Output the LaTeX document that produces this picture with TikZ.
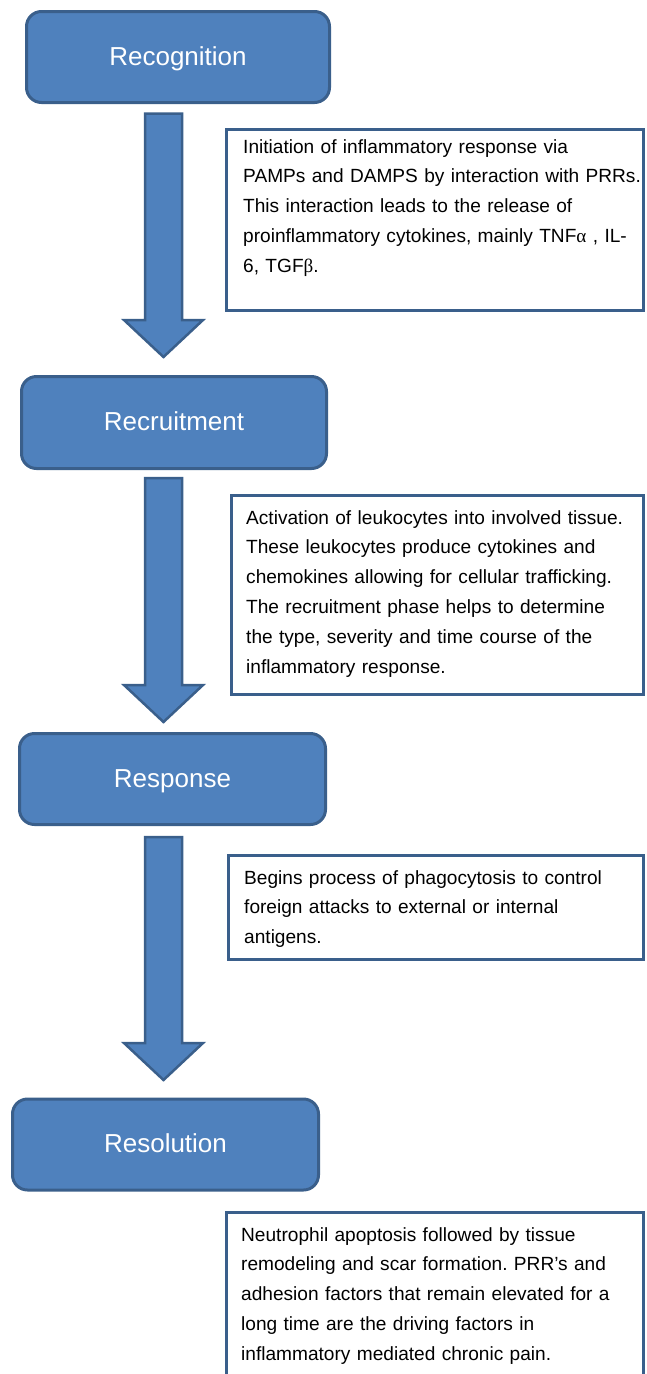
\documentclass[tikz,border=0pt]{standalone}
\usepackage{fontspec}
\setmainfont{Liberation Sans}
\newfontfamily\grk{Liberation Serif}
\definecolor{boxfill}{HTML}{4F81BD}
\definecolor{boxline}{HTML}{3A5F8B}
\frenchspacing
\tikzset{
  stage/.style={draw=boxline, fill=boxfill, line width=3pt, rounded corners=15pt,
    text=white, font=\fontsize{26}{30}\selectfont, text height=16.5pt, text depth=0pt,
    inner sep=0pt, minimum width=306pt, minimum height=91pt},
  infobox/.style={draw=boxline, fill=white, line width=3pt, inner sep=0pt},
  infotext/.style={anchor=base west, inner sep=0pt, text width=420pt, align=left,
    font=\fontsize{19.1}{29.8}\selectfont},
  blockarrow/.style={draw=boxline, fill=boxfill, line width=2.5pt, line join=miter}
}
\begin{document}
\begin{tikzpicture}[x=1pt,y=-1pt]
\useasboundingbox (0,0) rectangle (646,1374);
% stage boxes
\node[stage, minimum width=303pt] (rec) at (178,57) {Recognition};
\node[stage, minimum width=305pt, minimum height=92pt] (rcr) at (174,422.5) {Recruitment};
\node[stage] (rsp) at (172.5,779) {Response};
\node[stage] (rsl) at (165.5,1144.5) {Resolution};
% block arrows
\foreach \t/\h/\p in {113.5/320/357, 478/685/722, 837/1043/1080}{
  \draw[blockarrow] (145,\t) -- (182,\t) -- (182,\h) -- (203,\h) -- (163.5,\p)
     -- (124,\h) -- (145,\h) -- cycle;
}
% info boxes
\node[infobox, minimum width=417pt, minimum height=181pt] (tb1) at (435,220) {};
\node[infobox, minimum width=412pt, minimum height=199pt] (tb2) at (437.5,595) {};
\node[infobox, minimum width=415pt, minimum height=104pt] (tb3) at (436,907.5) {};
\node[infobox, minimum width=417pt, minimum height=200pt] (tb4) at (435,1312) {};
% texts
\node[infotext] (t1) at (243,153) {Initiation of inflammatory response via\\
PAMPs and DAMPS by interaction with PRRs.\\
This interaction leads to the release of\\
proinflammatory cytokines, mainly TNF{\grk α} , IL-\\
6, TGF{\grk β}.};
\node[infotext] (t2) at (246,524) {Activation of leukocytes into involved tissue.\\
These leukocytes produce cytokines and\\
chemokines allowing for cellular trafficking.\\
The recruitment phase helps to determine\\
the type, severity and time course of the\\
inflammatory response.};
\node[infotext] (t3) at (244,884) {Begins process of phagocytosis to control\\
foreign attacks to external or internal\\
antigens.};
\node[infotext] (t4) at (241,1241) {Neutrophil apoptosis followed by tissue\\
remodeling and scar formation. PRR’s and\\
adhesion factors that remain elevated for a\\
long time are the driving factors in\\
inflammatory mediated chronic pain.};
\end{tikzpicture}
\end{document}
